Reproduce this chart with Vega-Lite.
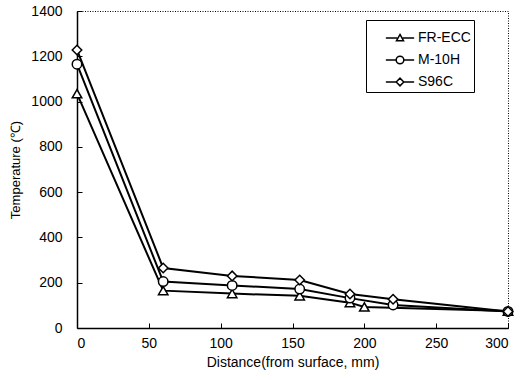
{
  "$schema": "https://vega.github.io/schema/vega-lite/v6.json",
  "width": 431,
  "height": 317,
  "autosize": {"type": "none"},
  "padding": {"left": 77, "top": 11, "right": 20, "bottom": 52},
  "background": "white",
  "config": {
    "view": {"stroke": "black", "strokeDash": [1, 1.5], "strokeWidth": 1},
    "font": "Liberation Sans",
    "axis": {
      "grid": false,
      "domainColor": "black",
      "domainWidth": 1.5,
      "tickColor": "black",
      "tickSize": -5,
      "labelColor": "black",
      "labelFont": "Liberation Sans",
      "labelFontSize": 14,
      "titleFont": "Liberation Sans",
      "titleFontWeight": "normal",
      "titleColor": "black"
    }
  },
  "data": {
    "values": [
      {"series": "FR-ECC", "distance": 0, "temp": 1035},
      {"series": "FR-ECC", "distance": 60, "temp": 165},
      {"series": "FR-ECC", "distance": 108, "temp": 152},
      {"series": "FR-ECC", "distance": 155, "temp": 142},
      {"series": "FR-ECC", "distance": 190, "temp": 112},
      {"series": "FR-ECC", "distance": 200, "temp": 93},
      {"series": "FR-ECC", "distance": 300, "temp": 75},
      {"series": "M-10H", "distance": 0, "temp": 1165},
      {"series": "M-10H", "distance": 60, "temp": 205},
      {"series": "M-10H", "distance": 108, "temp": 188},
      {"series": "M-10H", "distance": 155, "temp": 172},
      {"series": "M-10H", "distance": 190, "temp": 132},
      {"series": "M-10H", "distance": 220, "temp": 102},
      {"series": "M-10H", "distance": 300, "temp": 73},
      {"series": "S96C", "distance": 0, "temp": 1228},
      {"series": "S96C", "distance": 60, "temp": 265},
      {"series": "S96C", "distance": 108, "temp": 230},
      {"series": "S96C", "distance": 155, "temp": 212},
      {"series": "S96C", "distance": 190, "temp": 150},
      {"series": "S96C", "distance": 220, "temp": 127},
      {"series": "S96C", "distance": 300, "temp": 73}
    ]
  },
  "encoding": {
    "x": {
      "field": "distance", "type": "quantitative",
      "scale": {"domain": [0, 300], "nice": false},
      "axis": {"values": [0, 50, 100, 150, 200, 250, 300], "format": "d", "title": "Distance(from surface, mm)", "titleFontSize": 14, "labelPadding": 13, "titlePadding": 5}
    },
    "y": {
      "field": "temp", "type": "quantitative",
      "scale": {"domain": [0, 1400], "nice": false},
      "axis": {"values": [0, 200, 400, 600, 800, 1000, 1200, 1400], "format": "d", "title": "Temperature (℃)", "titleFontSize": 13, "labelPadding": 20, "titlePadding": 8}
    }
  },
  "layer": [
    {
      "mark": {"type": "line", "color": "black", "strokeWidth": 2},
      "encoding": {"detail": {"field": "series"}}
    },
    {
      "mark": {"type": "point", "filled": true, "fill": "white", "stroke": "black", "strokeWidth": 1.5, "size": 90, "opacity": 1},
      "encoding": {
        "shape": {
          "field": "series",
          "scale": {"domain": ["FR-ECC", "M-10H", "S96C"], "range": ["triangle-up", "circle", "diamond"]},
          "legend": null
        }
      }
    },
    {
      "mark": {"type": "point", "opacity": 0, "size": 90},
      "encoding": {
        "shape": {
          "field": "series",
          "scale": {
            "domain": ["FR-ECC", "M-10H", "S96C"],
            "range": [
              "M-1,0L-0.2,0M0.2,0L1,0M0,-0.25L0.25,0.2L-0.25,0.2Z",
              "M-1,0L-0.27,0M0.27,0L1,0M-0.27,0A0.27,0.27,0,1,1,0.27,0A0.27,0.27,0,1,1,-0.27,0Z",
              "M-1,0L-0.27,0M0.27,0L1,0M-0.27,0L0,-0.27L0.27,0L0,0.27Z"
            ]
          },
          "legend": {
            "title": null,
            "orient": "none",
            "legendX": 289,
            "legendY": 9,
            "padding": 3,
            "strokeColor": "black",
            "fillColor": "white",
            "symbolSize": 800,
            "symbolOpacity": 1,
            "symbolFillColor": "white",
            "symbolStrokeColor": "black",
            "symbolStrokeWidth": 1.5,
            "symbolOffset": 16,
            "labelFontSize": 14,
            "labelColor": "black",
            "labelOffset": 3,
            "rowPadding": 0
          }
        }
      }
    }
  ],
  "resolve": {"scale": {"shape": "independent"}}
}
